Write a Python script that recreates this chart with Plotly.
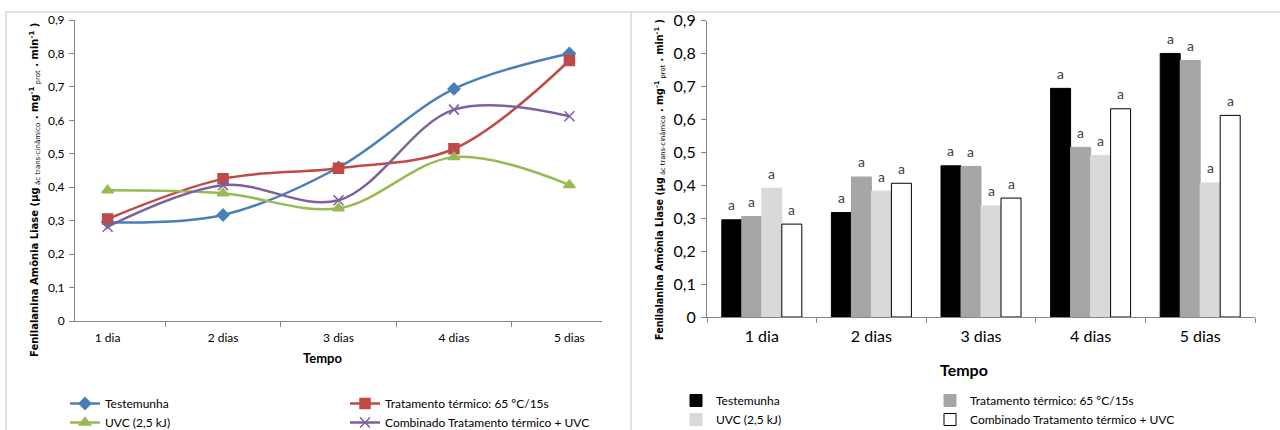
import plotly.graph_objects as go

W, H = 1280, 430

categories = ["1 dia", "2 dias", "3 dias", "4 dias", "5 dias"]
series_names = ["Testemunha", "Tratamento térmico: 65 ºC/15s", "UVC (2,5 kJ)",
                "Combinado Tratamento térmico + UVC"]
testemunha = [0.295, 0.317, 0.459, 0.694, 0.800]
tratamento = [0.305, 0.425, 0.457, 0.515, 0.779]
uvc = [0.391, 0.382, 0.337, 0.490, 0.407]
combinado = [0.282, 0.406, 0.361, 0.632, 0.612]
letters = [["a"] * 5, ["a"] * 5, ["a"] * 5, ["a"] * 5]
tick_vals = [0, 0.1, 0.2, 0.3, 0.4, 0.5, 0.6, 0.7, 0.8, 0.9]
tick_text = ["0", "0,1", "0,2", "0,3", "0,4", "0,5", "0,6", "0,7", "0,8", "0,9"]
y_title = ("<b>Fenilalanina Amônia Liase (µg</b><sub> ác trans-cinâmico</sub><b> . "
           "mg<sup>-1</sup></b><sub> prot</sub><b> . min<sup>-1</sup> )</b>")
x_title = "Tempo"

values = [testemunha, tratamento, uvc, combinado]

line_colors = ["#4a7ebb", "#be4b48", "#98b954", "#7d60a0"]
line_symbols = ["diamond", "square", "triangle-up", "x-thin"]
line_sizes = [9, 10, 10, 10]
bar_colors = ["#000000", "#a6a6a6", "#d9d9d9", "#ffffff"]
bar_lines = ["#000000", "#a6a6a6", "#d9d9d9", "#000000"]
legend_ids_left = ["legend", "legend2", "legend", "legend2"]
legend_ids_right = ["legend3", "legend4", "legend3", "legend4"]

FONT = "Lato, Carlito, sans-serif"


def px(x):
    return x / W


def py(y):
    return (H - y) / H


fig = go.Figure()

for i in range(4):
    fig.add_trace(go.Scatter(
        x=categories, y=values[i], name=series_names[i],
        mode="lines+markers", xaxis="x", yaxis="y",
        line=dict(color=line_colors[i], width=2.5, shape="spline", smoothing=1),
        marker=dict(symbol=line_symbols[i], size=line_sizes[i], color=line_colors[i],
                    line=dict(color=line_colors[i], width=1.5)),
        legend=legend_ids_left[i],
    ))

for i in range(4):
    fig.add_trace(go.Bar(
        x=categories, y=values[i], name=series_names[i],
        xaxis="x2", yaxis="y2",
        marker=dict(color=bar_colors[i], line=dict(color=bar_lines[i], width=1)),
        legend=legend_ids_right[i],
    ))

# plot area geometry (pixels)
L1, R1, T1, B1 = 75, 602, 20, 321
L2, R2, T2, B2 = 707, 1255, 20.5, 317
bargap = 0.27
bw = (R2 - L2) / len(categories) * (1 - bargap) / 4

annotations = []
for i in range(4):
    for j, c in enumerate(categories):
        annotations.append(dict(
            x=c, y=values[i][j], xref="x2", yref="y2", text=letters[i][j],
            showarrow=False, xshift=(i - 1.5) * bw, yshift=15,
            xanchor="center", yanchor="middle",
            font=dict(family=FONT, size=14, color="#404040"),
        ))

annotations += [
    dict(x=px(35), y=py(190), xref="paper", yref="paper", text=y_title, textangle=-90,
         showarrow=False, font=dict(family="DejaVu Sans, sans-serif", size=10, color="#000"),
         xanchor="center", yanchor="middle"),
    dict(x=px(660), y=py(180), xref="paper", yref="paper", text=y_title, textangle=-90,
         showarrow=False, font=dict(family="DejaVu Sans, sans-serif", size=9.6, color="#000"),
         xanchor="center", yanchor="middle"),
    dict(x=px(322), y=py(358), xref="paper", yref="paper", text="<b>" + x_title + "</b>",
         showarrow=False, xanchor="center", yanchor="middle",
         font=dict(family=FONT, size=13, color="#000")),
    dict(x=px(964), y=py(369), xref="paper", yref="paper", text="<b>" + x_title + "</b>",
         showarrow=False, xanchor="center", yanchor="middle",
         font=dict(family=FONT, size=16, color="#000")),
]

axis_common = dict(showline=True, linecolor="#868686", linewidth=1, ticks="outside",
                   ticklen=5, tickcolor="#868686", showgrid=False, zeroline=False,
                   automargin=False)

shapes = [
    dict(type="rect", xref="paper", yref="paper", x0=px(6), x1=px(631), y0=py(445), y1=py(12),
         line=dict(color="#d9d9d9", width=1.5), layer="below"),
    dict(type="line", xref="paper", yref="paper", x0=px(631), x1=1, y0=py(12), y1=py(12),
         line=dict(color="#d9d9d9", width=1.5), layer="below"),
]

leg_common = dict(orientation="v", bgcolor="rgba(0,0,0,0)", borderwidth=0,
                  xanchor="left", yanchor="top", tracegroupgap=0,
                  font=dict(family=FONT, size=12, color="#000"))

fig.update_layout(
    width=W, height=H,
    margin=dict(l=0, r=0, t=0, b=0, pad=0, autoexpand=False),
    paper_bgcolor="white", plot_bgcolor="white",
    barmode="group", bargap=bargap, bargroupgap=0,
    showlegend=True,
    xaxis=dict(domain=[px(L1), px(R1)], anchor="y", type="category",
               categoryorder="array", categoryarray=categories, tickson="boundaries",
               ticklabelstandoff=6,
               tickfont=dict(family=FONT, size=12, color="#000"), **axis_common),
    yaxis=dict(domain=[py(B1), py(T1)], anchor="x", range=[0, 0.9],
               tickvals=tick_vals, ticktext=tick_text, ticklabelstandoff=2,
               tickfont=dict(family=FONT, size=12, color="#000"), **axis_common),
    xaxis2=dict(domain=[px(L2), px(R2)], anchor="y2", type="category",
                categoryorder="array", categoryarray=categories, tickson="boundaries",
                ticklabelstandoff=5,
                tickfont=dict(family=FONT, size=16, color="#000"), **axis_common),
    yaxis2=dict(domain=[py(B2), py(T2)], anchor="x2", range=[0, 0.9],
                tickvals=tick_vals, ticktext=tick_text, ticklabelstandoff=2,
                tickfont=dict(family=FONT, size=16, color="#000"), **axis_common),
    legend=dict(x=px(65), y=py(389), **leg_common),
    legend2=dict(x=px(345), y=py(389), **leg_common),
    legend3=dict(x=px(676), y=py(386), **leg_common),
    legend4=dict(x=px(930), y=py(386), **leg_common),
    annotations=annotations,
    shapes=shapes,
)

fig.write_html("out.html",
               config={"displayModeBar": False},
               post_script="document.body.style.margin='0px';document.body.style.overflow='hidden';")
